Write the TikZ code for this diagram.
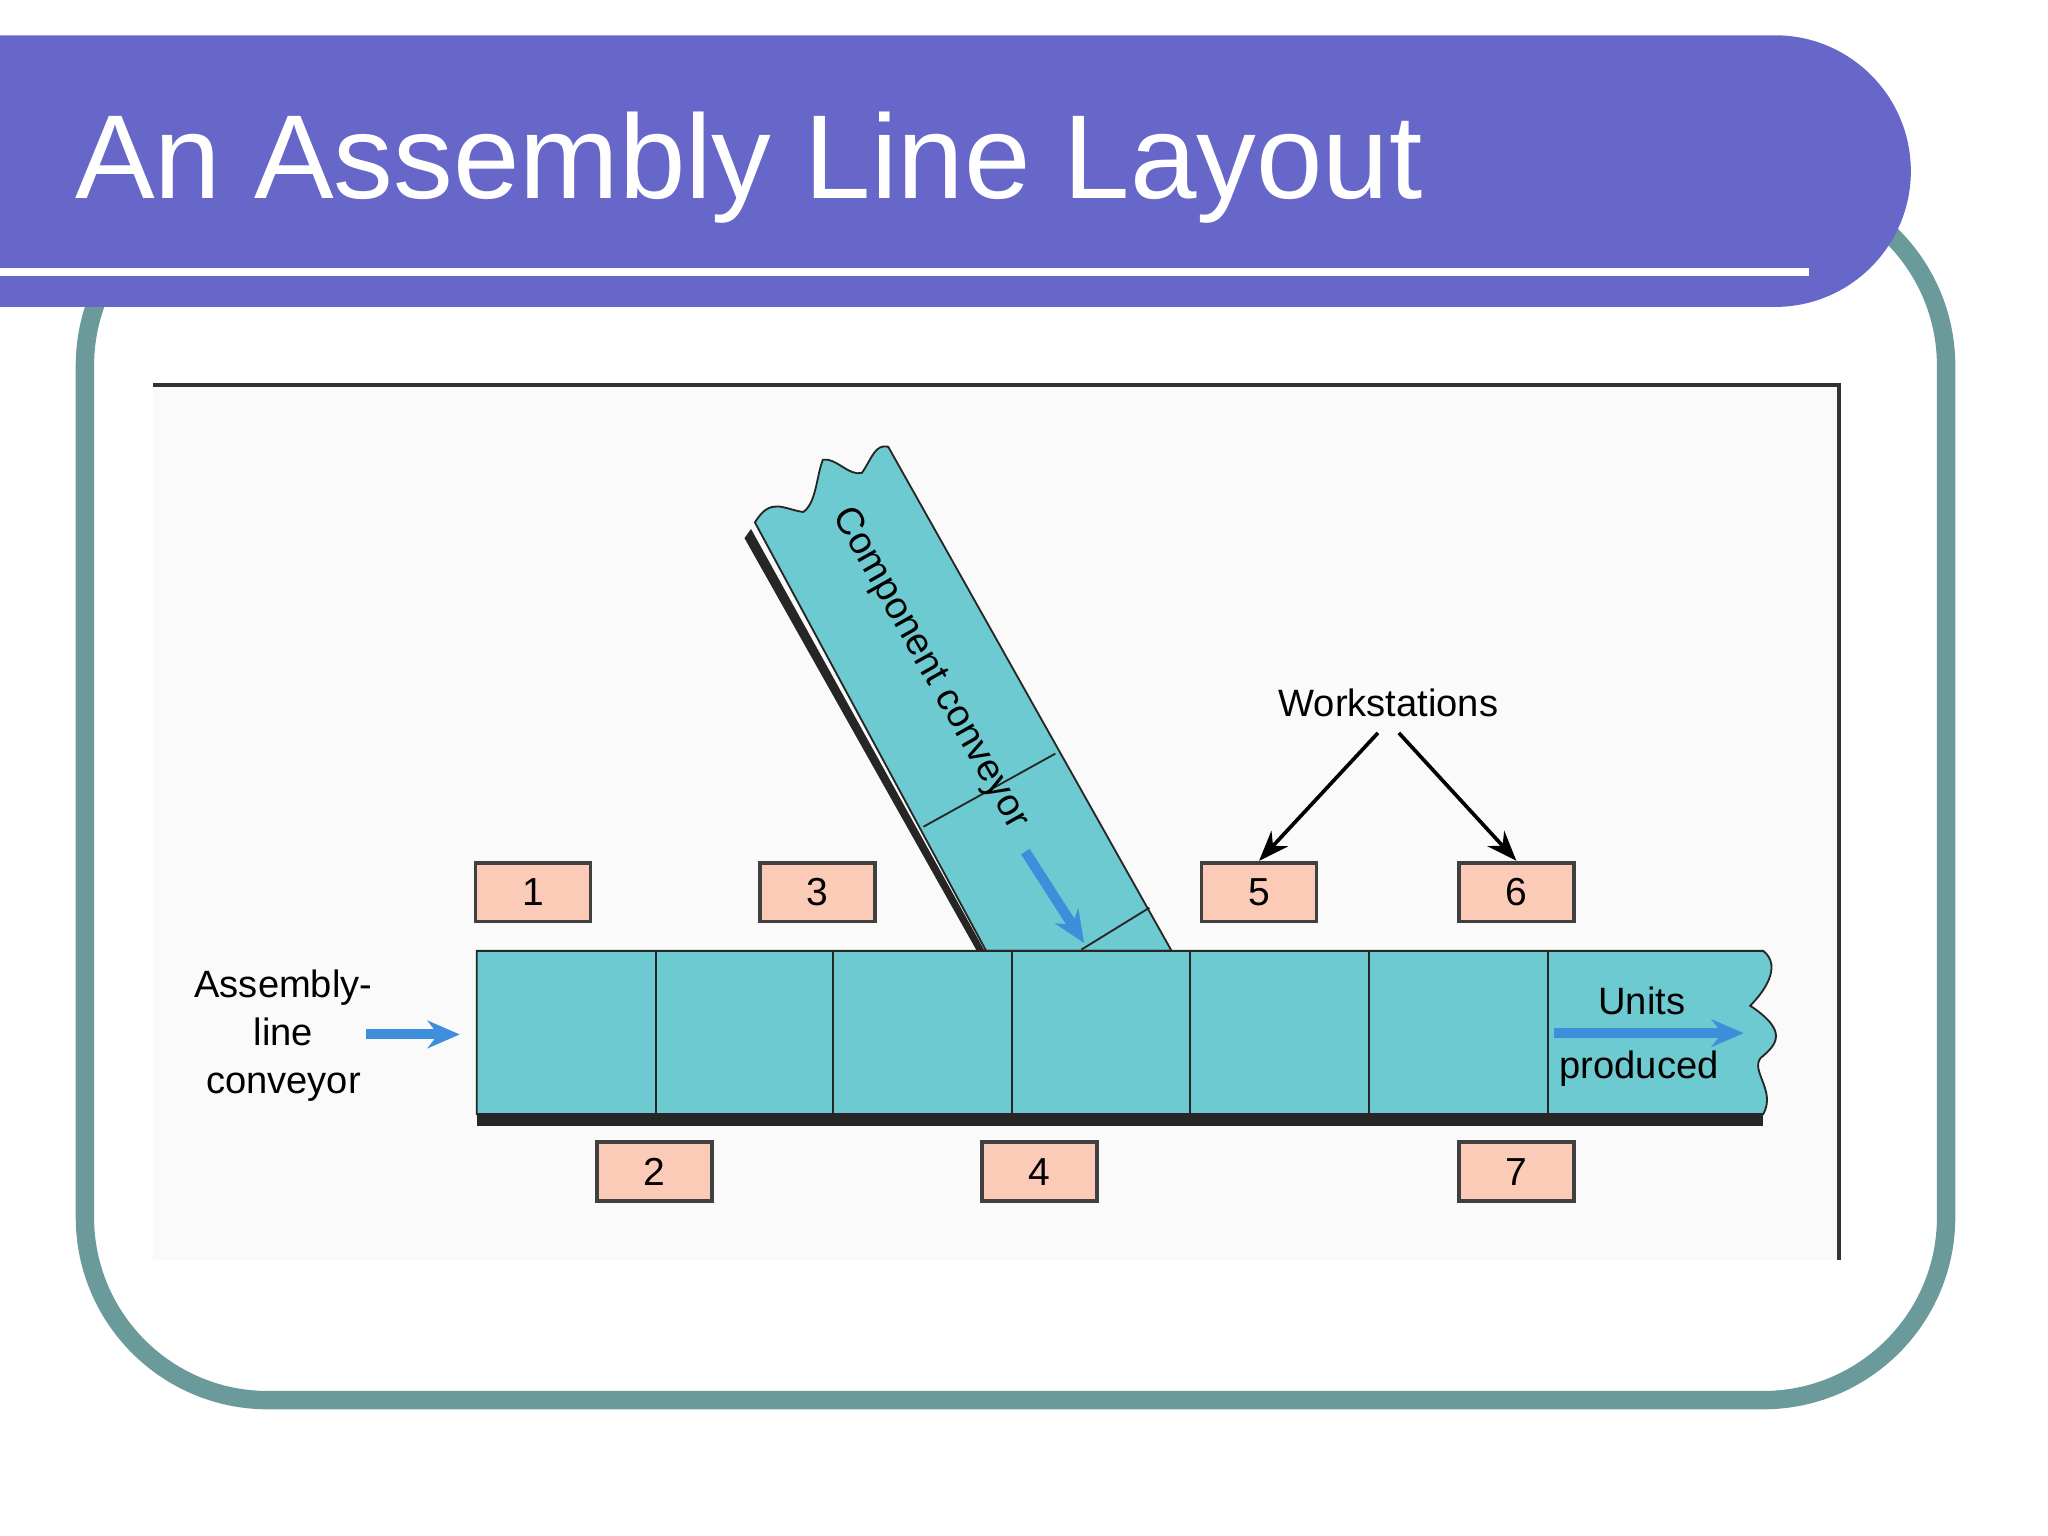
\documentclass[tikz,border=0pt]{standalone}
\usepackage{fontspec}
\setmainfont{Liberation Sans}
\usetikzlibrary{arrows.meta, positioning}
\definecolor{banner}{HTML}{6767C9}
\definecolor{frame}{HTML}{6A9A9A}
\definecolor{belt}{HTML}{6CCAD0}
\definecolor{station}{HTML}{FCCBB8}
\definecolor{flow}{HTML}{3E8EDB}
\begin{document}
\begin{tikzpicture}[
    x=0.01cm, y=-0.01cm,
    ws/.style={rectangle, draw=black!75, thick, fill=station, minimum width=0.88cm, minimum height=0.45cm, font=\fontsize{8.5}{10}\selectfont},
    lbl/.style={font=\fontsize{8.3}{10.5}\selectfont, align=center},
    flowarrow/.style={-{Stealth[length=7pt,width=6pt]}, flow, line width=2.2pt},
    >=Stealth
]
\useasboundingbox (0,0) rectangle (1568,1176);
% Frame and title banner
\draw[frame, line width=4pt, rounded corners=1.4cm] (65,140) rectangle (1490,1072);
\fill[banner] (-10,27) {[rounded corners=1.04cm] -- (1463,27) -- (1463,235)} -- (-10,235) -- cycle;
\fill[white] (0,205) rectangle (1385,211);
\node[anchor=base west, text=white, font=\fontsize{26}{30}\selectfont] (title) at (45,152) {An Assembly Line Layout};

% Figure area
\fill[black!2] (117,295) rectangle (1408,965);
\draw[black!80, thick] (117,295) -- (1408,295) -- (1408,965);

% Component conveyor
\fill[black!85] (755,730) -- (575,405) -- (570,412) -- (749,730) -- cycle;
\draw[black!85, fill=belt] (755,728) -- (578,400) .. controls (590,380) and (600,390) .. (615,392)
  .. controls (625,385) and (625,365) .. (630,352) .. controls (640,350) and (650,365) .. (660,362)
  .. controls (668,350) and (670,340) .. (680,342) -- (897,728) -- cycle;
\draw[black!85] (707,633) -- (808,577);
\draw[black!85] (828,727) -- (880,695);
\node[lbl, rotate=-60.6] (cc) at (712,512) {Component conveyor};
\coordinate (ccin) at (785,652);
\coordinate (ccout) at (830,722);
\draw[flowarrow] (ccin) -- (ccout);

% Main conveyor
\fill[black!85] (365,853) rectangle (1350,862);
\draw[black!85, fill=belt] (365,728) -- (1350,728) .. controls (1365,740) and (1350,760) .. (1340,770)
  .. controls (1370,790) and (1360,800) .. (1348,810) .. controls (1340,820) and (1360,835) .. (1350,853)
  -- (365,853) -- cycle;
\foreach \xx in {502,638,775,911,1048,1185}
  \draw[black!85] (\xx,728) -- (\xx,853);

% Workstations
\node[ws] (s1) at (408,683) {1};
\node[ws] (s3) at (626,683) {3};
\node[ws] (s5) at (964,683) {5};
\node[ws] (s6) at (1161,683) {6};
\node[ws] (s2) at (501,897) {2};
\node[ws] (s4) at (796,897) {4};
\node[ws] (s7) at (1161,897) {7};

% Labels and arrows
\node[lbl] (wslbl) at (1063,538) {Workstations};
\draw[->, thick] (wslbl.south) ++(-8,0) -- (s5.north);
\draw[->, thick] (wslbl.south) ++(8,0) -- (s6.north);
\node[lbl] (alc) at (217,793) {Assembly-\\line\\conveyor};
\coordinate (alcin) at (280,792);
\coordinate (alcout) at (352,792);
\draw[flowarrow] (alcin) -- (alcout);
\node[lbl] (units) at (1257,766) {Units};
\node[lbl] (prod) at (1255,818) {produced};
\coordinate (upin) at (1190,791);
\coordinate (upout) at (1335,791);
\draw[flowarrow] (upin) -- (upout);
\end{tikzpicture}
\end{document}
